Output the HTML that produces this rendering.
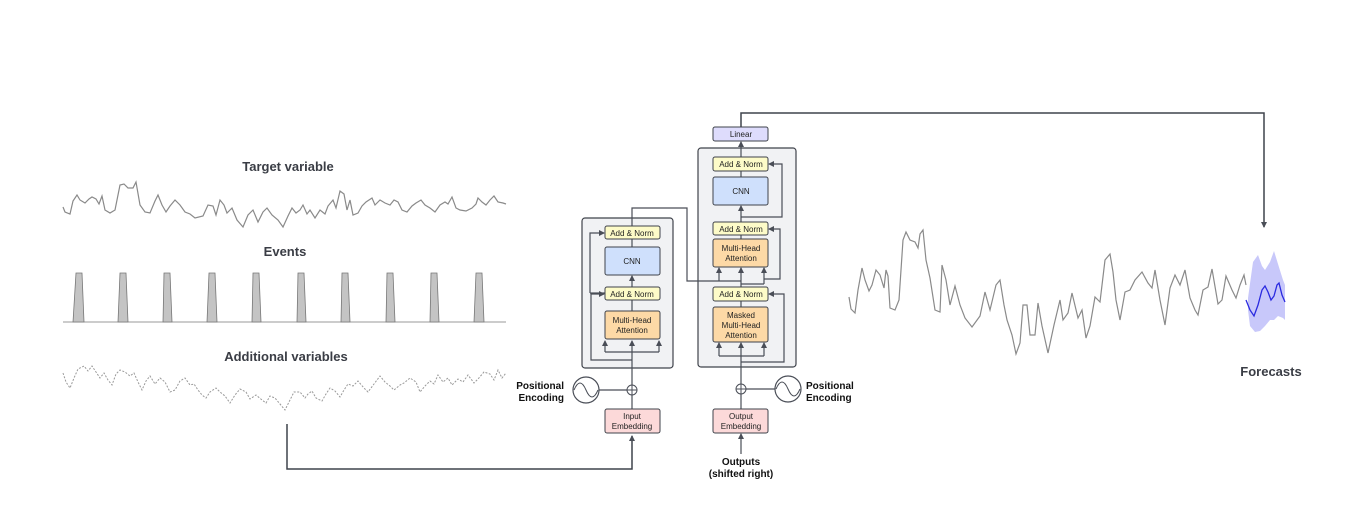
<!DOCTYPE html>
<html><head><meta charset="utf-8"><style>
html,body{margin:0;padding:0;background:#fff;}
svg{display:block;}
text{font-family:"Liberation Sans",sans-serif;}
.t{font-size:13px;font-weight:bold;fill:#3a3d45;text-anchor:middle;}
.b{font-size:8px;fill:#222;text-anchor:middle;}
.k{font-size:10px;font-weight:bold;fill:#111;}
.w{stroke:#4a4e57;stroke-width:1.2;fill:none;}
</style></head><body>
<svg width="1346" height="514" viewBox="0 0 1346 514" xmlns="http://www.w3.org/2000/svg">
<defs>
<marker id="a" markerWidth="6" markerHeight="6" refX="5" refY="3" orient="auto" markerUnits="userSpaceOnUse"><path d="M0,0 L6,3 L0,6 z" fill="#4a4e57"/></marker>
</defs>

<text class="t" x="288" y="171">Target variable</text>
<text class="t" x="285" y="256">Events</text>
<text class="t" x="286" y="361">Additional variables</text>
<text class="t" x="1271" y="376">Forecasts</text>

<polyline fill="none" stroke="#8a8a8a" stroke-width="1.2" points="63,207 65,212 70,214 73,201 77,195 80,200 85,203 89,199 92,197 96,199 99,204 102,196 105,210 110,213 115,210 120,185 124,184 128,188 133,188 136,182 140,205 145,212 150,213 155,201 158,195 162,205 166,212 170,206 175,200 180,205 185,212 190,214 195,218 203,216 208,205 213,206 216,215 220,200 224,205 227,213 232,208 237,220 243,227 248,215 253,210 258,222 263,212 267,208 272,215 278,220 283,227 288,216 292,208 296,213 300,210 303,205 307,214 310,210 315,218 320,210 325,214 328,206 333,200 336,208 340,191 344,194 347,210 350,200 353,215 358,213 362,206 366,202 372,198 375,205 380,200 385,203 390,205 394,200 398,202 402,210 407,212 412,206 416,203 421,200 425,205 430,208 435,212 440,205 445,202 448,204 452,197 456,208 460,210 466,211 472,208 476,204 478,198 482,202 486,205 490,200 494,196 498,202 503,203 506,204"/>

<line x1="63" y1="322" x2="506" y2="322" stroke="#999" stroke-width="1"/>
<g fill="#c4c4c4" stroke="#777" stroke-width="0.8">
<path d="M73,322 L76,273 L82,273 L84,322 z"/>
<path d="M118,322 L120,273 L126,273 L128,322 z"/>
<path d="M163,322 L164,273 L170,273 L172,322 z"/>
<path d="M207,322 L209,273 L215,273 L217,322 z"/>
<path d="M252,322 L253,273 L259,273 L261,322 z"/>
<path d="M297,322 L298,273 L304,273 L306,322 z"/>
<path d="M341,322 L342,273 L348,273 L350,322 z"/>
<path d="M386,322 L387,273 L393,273 L395,322 z"/>
<path d="M430,322 L431,273 L437,273 L439,322 z"/>
<path d="M474,322 L476,273 L482,273 L484,322 z"/>
</g>

<polyline fill="none" stroke="#999" stroke-width="1" stroke-dasharray="2,1.5" points="63,373 66,382 70,388 74,378 78,369 84,366 88,371 92,366 96,372 100,378 104,373 108,380 112,385 116,374 120,370 125,372 130,376 134,373 138,382 142,390 146,381 150,376 155,384 160,378 165,382 170,392 175,390 180,381 185,378 190,385 194,384 198,390 202,395 206,398 210,392 216,388 220,392 225,396 230,403 235,395 240,389 246,392 250,399 256,395 262,400 266,403 270,396 275,398 280,404 285,410 290,400 294,392 300,392 305,398 308,394 312,391 316,398 322,401 326,394 330,388 335,391 340,397 344,390 348,384 353,386 358,381 364,388 368,392 374,384 380,376 385,382 390,386 394,390 400,385 404,383 410,378 416,382 420,392 425,386 430,381 434,384 438,375 443,382 448,378 452,385 458,379 463,382 468,375 474,383 478,379 484,372 490,374 494,380 498,370 502,378 506,373"/>

<polygon fill="#c8c8fa" points="1248,298 1253,262 1258,255 1262,266 1265,270 1270,262 1274,251 1278,264 1283,280 1285,285 1285,320 1283,318 1278,316 1274,320 1270,320 1265,326 1260,331 1255,332 1250,326 1248,310"/>
<polyline fill="none" stroke="#8a8a8a" stroke-width="1.2" points="849,297 851,309 855,313 858,290 862,268 865,280 869,291 872,285 876,270 880,275 884,288 886,270 888,276 890,308 895,310 899,300 903,240 906,232 910,240 915,242 918,248 920,234 923,230 926,260 930,278 935,310 940,312 942,265 946,280 950,305 955,286 960,305 965,318 972,327 980,316 985,292 990,310 996,285 1000,280 1004,305 1007,320 1012,335 1016,354 1020,343 1023,305 1027,305 1030,335 1035,335 1038,303 1042,326 1048,353 1054,325 1060,300 1063,320 1068,313 1072,293 1078,318 1082,310 1086,338 1090,326 1095,297 1100,302 1105,260 1110,254 1113,272 1116,300 1120,320 1125,292 1130,290 1135,280 1142,272 1148,283 1152,288 1155,270 1160,300 1165,325 1170,288 1175,275 1180,285 1185,270 1190,298 1195,310 1198,315 1203,290 1208,287 1212,269 1218,304 1222,300 1226,276 1232,290 1236,298 1240,285 1244,275 1246,285"/>
<polyline fill="none" stroke="#2a2ae0" stroke-width="1.3" points="1246,300 1250,310 1254,316 1258,305 1262,290 1265,286 1268,292 1271,300 1274,296 1277,285 1279,283 1282,295 1285,302"/>

<rect x="582" y="218" width="91" height="150" rx="3" fill="#f1f2f4" stroke="#3f434b" stroke-width="1.2"/>
<rect x="698" y="148" width="98" height="219" rx="3" fill="#f1f2f4" stroke="#3f434b" stroke-width="1.2"/>

<path class="w" d="M632,433 L632,395"/>
<path class="w" d="M632,385 L632,341" marker-end="url(#a)"/>
<path class="w" d="M599,390 L627,390"/>
<path class="w" d="M605,352 L659,352"/>
<path class="w" d="M605,352 L605,341" marker-end="url(#a)"/>
<path class="w" d="M659,352 L659,341" marker-end="url(#a)"/>
<path class="w" d="M632,360 L591,360 L591,294 L604,294" marker-end="url(#a)"/>
<path class="w" d="M632,311 L632,300"/>
<path class="w" d="M632,287 L632,276" marker-end="url(#a)"/>
<path class="w" d="M605,293 L590,293"/>
<path class="w" d="M590,293 L590,233 L604,233" marker-end="url(#a)"/>
<path class="w" d="M632,247 L632,239"/>
<path class="w" d="M632,226 L632,208 L687,208 L687,281 L741,281"/>
<path class="w" d="M719,281 L719,268" marker-end="url(#a)"/>

<path class="w" d="M741,454 L741,434" marker-end="url(#a)"/>
<path class="w" d="M741,409 L741,394"/>
<path class="w" d="M741,384 L741,343" marker-end="url(#a)"/>
<path class="w" d="M745,389 L775,389"/>
<path class="w" d="M719,356 L764,356"/>
<path class="w" d="M719,356 L719,343" marker-end="url(#a)"/>
<path class="w" d="M764,356 L764,343" marker-end="url(#a)"/>
<path class="w" d="M741,362 L784,362 L784,294 L769,294" marker-end="url(#a)"/>
<path class="w" d="M741,307 L741,301"/>
<path class="w" d="M741,287 L741,268" marker-end="url(#a)"/>
<path class="w" d="M741,284 L764,284"/>
<path class="w" d="M764,284 L764,268" marker-end="url(#a)"/>
<path class="w" d="M764,279 L780,279 L780,229 L769,229" marker-end="url(#a)"/>
<path class="w" d="M741,239 L741,235"/>
<path class="w" d="M741,222 L741,206" marker-end="url(#a)"/>
<path class="w" d="M741,217 L782,217 L782,164 L769,164" marker-end="url(#a)"/>
<path class="w" d="M741,177 L741,171"/>
<path class="w" d="M741,157 L741,142" marker-end="url(#a)"/>
<path d="M741,127 L741,113 L1264,113 L1264,227" fill="none" stroke="#3f434b" stroke-width="1.5" marker-end="url(#a)"/>
<path d="M287,424 L287,469 L632,469 L632,436" fill="none" stroke="#3f434b" stroke-width="1.5" marker-end="url(#a)"/>

<circle cx="586" cy="390" r="13" fill="#fff" stroke="#4a4e57" stroke-width="1.2"/>
<path d="M574,390 Q580,376 586,390 Q592,404 598,390" fill="none" stroke="#4a4e57" stroke-width="1"/>
<circle cx="632" cy="390" r="5" fill="#fff" stroke="#4a4e57" stroke-width="1"/>
<path d="M627,390 H637 M632,385 V395" stroke="#4a4e57" stroke-width="1"/>
<circle cx="788" cy="389" r="13" fill="#fff" stroke="#4a4e57" stroke-width="1.2"/>
<path d="M776,389 Q782,375 788,389 Q794,403 800,389" fill="none" stroke="#4a4e57" stroke-width="1"/>
<circle cx="741" cy="389" r="5" fill="#fff" stroke="#4a4e57" stroke-width="1"/>
<path d="M736,389 H746 M741,384 V394" stroke="#4a4e57" stroke-width="1"/>

<g stroke="#3f434b" stroke-width="1">
<rect x="605" y="226" width="55" height="13" rx="2" fill="#fdfbc8"/>
<rect x="605" y="247" width="55" height="28" rx="2" fill="#cfe0fc"/>
<rect x="605" y="287" width="55" height="13" rx="2" fill="#fdfbc8"/>
<rect x="605" y="311" width="55" height="28" rx="2" fill="#fdd9a6"/>
<rect x="605" y="409" width="55" height="24" rx="2" fill="#fcd9d9"/>
<rect x="713" y="127" width="55" height="14" rx="2" fill="#dedcfc"/>
<rect x="713" y="157" width="55" height="14" rx="2" fill="#fdfbc8"/>
<rect x="713" y="177" width="55" height="28" rx="2" fill="#cfe0fc"/>
<rect x="713" y="222" width="55" height="13" rx="2" fill="#fdfbc8"/>
<rect x="713" y="239" width="55" height="28" rx="2" fill="#fdd9a6"/>
<rect x="713" y="287" width="55" height="14" rx="2" fill="#fdfbc8"/>
<rect x="713" y="307" width="55" height="35" rx="2" fill="#fdd9a6"/>
<rect x="713" y="409" width="55" height="24" rx="2" fill="#fcd9d9"/>
</g>
<text class="b" x="632" y="236">Add &amp; Norm</text>
<text class="b" x="632" y="264">CNN</text>
<text class="b" x="632" y="297">Add &amp; Norm</text>
<text class="b" x="632" y="323">Multi-Head</text>
<text class="b" x="632" y="333">Attention</text>
<text class="b" x="632" y="419">Input</text>
<text class="b" x="632" y="429">Embedding</text>
<text class="b" x="741" y="137">Linear</text>
<text class="b" x="741" y="167">Add &amp; Norm</text>
<text class="b" x="741" y="194">CNN</text>
<text class="b" x="741" y="232">Add &amp; Norm</text>
<text class="b" x="741" y="251">Multi-Head</text>
<text class="b" x="741" y="261">Attention</text>
<text class="b" x="741" y="297">Add &amp; Norm</text>
<text class="b" x="741" y="318">Masked</text>
<text class="b" x="741" y="328">Multi-Head</text>
<text class="b" x="741" y="338">Attention</text>
<text class="b" x="741" y="419">Output</text>
<text class="b" x="741" y="429">Embedding</text>

<text class="k" x="564" y="389" text-anchor="end">Positional</text>
<text class="k" x="564" y="401" text-anchor="end">Encoding</text>
<text class="k" x="806" y="389">Positional</text>
<text class="k" x="806" y="401">Encoding</text>
<text class="k" x="741" y="465" text-anchor="middle">Outputs</text>
<text class="k" x="741" y="477" text-anchor="middle">(shifted right)</text>
</svg>
</body></html>
